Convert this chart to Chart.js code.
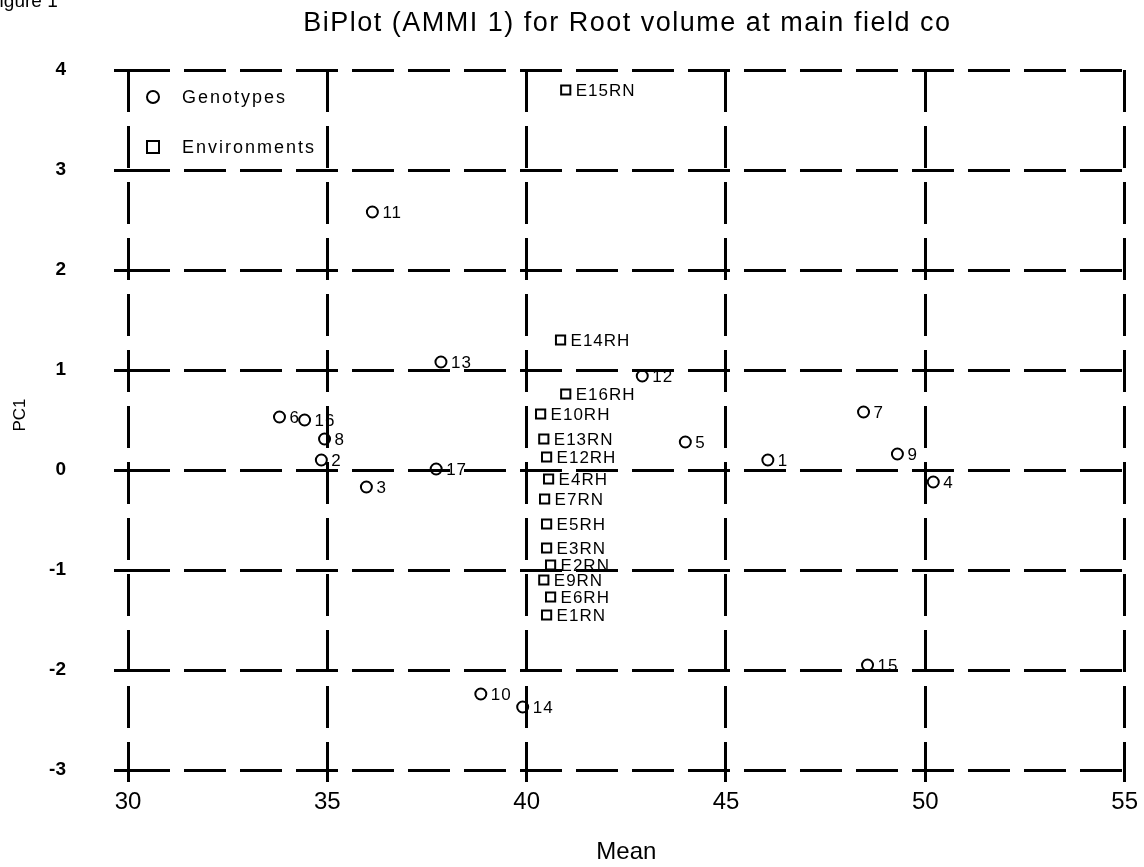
<!DOCTYPE html>
<html>
<head>
<meta charset="utf-8">
<title>BiPlot (AMMI 1)</title>
<script src="https://cdn.jsdelivr.net/npm/chart.js@4.4.1/dist/chart.umd.min.js"></script>
<style>
  html, body { margin: 0; padding: 0; background: #fff; }
  #wrap { position: relative; width: 1144px; height: 867px; }
</style>
</head>
<body>
<div id="wrap"><canvas id="biplot" width="1144" height="867"></canvas></div>
<script>
// genotypes (circles)
const genoNames = ["11", "13", "12", "6", "16", "8", "2", "3", "17", "5", "1", "7", "9", "4", "10", "14", "15"];
const genoMean = [36.13, 37.85, 42.9, 33.8, 34.43, 34.93, 34.85, 35.98, 37.73, 43.98, 46.05, 48.45, 49.3, 50.2, 38.85, 39.9, 48.55];
const genoPC1 = [2.58, 1.08, 0.94, 0.53, 0.5, 0.31, 0.1, -0.17, 0.01, 0.28, 0.1, 0.58, 0.16, -0.12, -2.24, -2.37, -1.95];

// environments (squares)
const envNames = ["E15RN", "E14RH", "E16RH", "E10RH", "E13RN", "E12RH", "E4RH", "E7RN", "E5RH", "E3RN", "E2RN", "E9RN", "E6RH", "E1RN"];
const envMean = [40.98, 40.85, 40.98, 40.35, 40.43, 40.5, 40.55, 40.45, 40.5, 40.5, 40.6, 40.43, 40.6, 40.5];
const envPC1 = [3.8, 1.3, 0.76, 0.56, 0.31, 0.13, -0.09, -0.29, -0.54, -0.78, -0.95, -1.1, -1.27, -1.45];

const xTicks = [30, 35, 40, 45, 50, 55];
const yTicks = [-3, -2, -1, 0, 1, 2, 3, 4];

const titleText = "BiPlot (AMMI 1) for Root volume at main field co";
const FONT = "'Liberation Sans', Arial, sans-serif";

const toPoints = function (xs, ys) {
  return xs.map((x, i) => ({ x: x, y: ys[i] }));
};

const textPlugin = {
  id: "biplotText",
  afterDatasetsDraw(chart) {
    const ctx = chart.ctx;
    const area = chart.chartArea;
    ctx.save();
    ctx.fillStyle = "#000";
    ctx.textBaseline = "middle";

    // point labels
    const lists = [genoNames, envNames];
    lists.forEach((names, d) => {
      const meta = chart.getDatasetMeta(d);
      ctx.font = `17px ${FONT}`;
      ctx.letterSpacing = "1px";
      meta.data.forEach((pt, i) => {
        ctx.textAlign = "left";
        ctx.fillText(names[i], pt.x + 10, pt.y + 1);
      });
    });

    // legend inside plot
    ctx.lineWidth = 2;
    ctx.strokeStyle = "#000";
    const lx = area.left + 25;
    ctx.beginPath();
    ctx.arc(lx, area.top + 27, 6, 0, Math.PI * 2);
    ctx.stroke();
    ctx.strokeRect(lx - 6, area.top + 71, 12, 12);
    ctx.font = `18px ${FONT}`;
    ctx.letterSpacing = "2px";
    ctx.fillText("Genotypes", lx + 29, area.top + 28);
    ctx.fillText("Environments", lx + 29, area.top + 78);

    // titles
    ctx.letterSpacing = "1.5px";
    ctx.textAlign = "center";
    ctx.font = `27px ${FONT}`;
    ctx.fillText(titleText, (area.left + area.right) / 2 + 1, 24);
    ctx.letterSpacing = "0px";
    ctx.font = `24px ${FONT}`;
    ctx.fillText("Mean", (area.left + area.right) / 2, 852);
    ctx.save();
    ctx.translate(20, (area.top + area.bottom) / 2 - 5);
    ctx.rotate(-Math.PI / 2);
    ctx.font = `17px ${FONT}`;
    ctx.fillText("PC1", 0, 0);
    ctx.restore();

    ctx.textAlign = "left";
    ctx.textBaseline = "alphabetic";
    ctx.font = `19px ${FONT}`;
    ctx.fillText("Figure 1", -12, 7);
    ctx.restore();
  },
};

const gridStyle = {
  color: "#000",
  lineWidth: 3,
  drawTicks: true,
  tickWidth: 3,
  tickColor: "#000",
};

new Chart(document.querySelector("#biplot"), {
  type: "scatter",
  data: {
    datasets: [
      {
        label: "Genotypes",
        data: toPoints(genoMean, genoPC1),
        pointStyle: "circle",
        pointRadius: 5.5,
        borderColor: "#000",
        borderWidth: 2,
        backgroundColor: "rgba(0,0,0,0)",
      },
      {
        label: "Environments",
        data: toPoints(envMean, envPC1),
        pointStyle: "rect",
        pointRadius: 6.5,
        borderColor: "#000",
        borderWidth: 2,
        backgroundColor: "rgba(0,0,0,0)",
      },
    ],
  },
  options: {
    responsive: false,
    animation: false,
    events: [],
    layout: { padding: { top: 70, right: 16, left: 0, bottom: 0 } },
    plugins: {
      legend: { display: false },
      tooltip: { enabled: false },
    },
    scales: {
      x: {
        type: "linear",
        min: 30,
        max: 55,
        afterFit: (scale) => {
          scale.height = 97;
        },
        afterBuildTicks: (scale) => {
          scale.ticks = xTicks.map((v) => ({ value: v }));
        },
        border: { display: false, dash: [42, 14] },
        grid: { ...gridStyle, tickLength: 12 },
        ticks: {
          color: "#000",
          padding: 6,
          maxRotation: 0,
          font: { family: FONT, size: 24 },
        },
      },
      y: {
        type: "linear",
        min: -3,
        max: 4,
        afterFit: (scale) => {
          scale.width = 128;
        },
        afterBuildTicks: (scale) => {
          scale.ticks = yTicks.map((v) => ({ value: v }));
        },
        border: { display: false, dash: [42, 14] },
        grid: { ...gridStyle, tickLength: 14 },
        ticks: {
          color: "#000",
          padding: 48,
          font: { family: FONT, size: 19, weight: "bold" },
        },
      },
    },
  },
  plugins: [textPlugin],
});
</script>
</body>
</html>
